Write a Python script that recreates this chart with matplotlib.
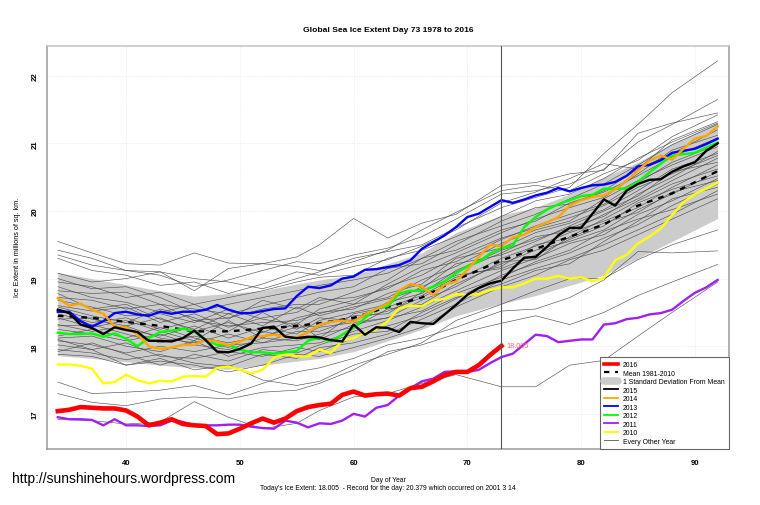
import matplotlib
matplotlib.use("Agg")
import matplotlib.pyplot as plt
from matplotlib.lines import Line2D

plt.rcParams["font.family"] = ["Liberation Sans", "DejaVu Sans"]

days = list(range(34, 93))
days_2016 = list(range(34, 74))

ice_2016 = [17.04, 17.06, 17.10, 17.09, 17.08, 17.08, 17.05, 16.96, 16.83, 16.87,
            16.92, 16.85, 16.83, 16.82, 16.70, 16.71, 16.78, 16.86, 16.93, 16.87,
            16.93, 17.04, 17.10, 17.13, 17.15, 17.28, 17.33, 17.27, 17.29, 17.30,
            17.27, 17.38, 17.40, 17.48, 17.57, 17.62, 17.62, 17.72, 17.87, 18.005]
ice_2015 = [18.54, 18.49, 18.32, 18.27, 18.18, 18.28, 18.24, 18.21, 18.08, 18.08,
            18.07, 18.12, 18.23, 18.09, 17.92, 17.91, 17.96, 18.04, 18.27, 18.29,
            18.14, 18.12, 18.14, 18.13, 18.09, 18.07, 18.32, 18.17, 18.28, 18.27,
            18.21, 18.36, 18.34, 18.33, 18.47, 18.61, 18.76, 18.86, 18.93, 18.97,
            19.15, 19.31, 19.32, 19.47, 19.64, 19.75, 19.75, 19.96, 20.17, 20.08,
            20.30, 20.40, 20.46, 20.47, 20.58, 20.66, 20.72, 20.89, 21.00]
ice_2014 = [18.71, 18.60, 18.63, 18.54, 18.48, 18.29, 18.28, 18.18, 18.00, 17.96,
            17.98, 18.02, 18.02, 18.09, 18.07, 18.01, 18.07, 18.13, 18.15, 18.17,
            18.14, 18.13, 18.21, 18.32, 18.36, 18.38, 18.36, 18.47, 18.55, 18.63,
            18.82, 18.92, 18.88, 18.76, 18.91, 18.96, 19.13, 19.32, 19.50, 19.48,
            19.61, 19.65, 19.76, 19.83, 19.91, 20.08, 20.16, 20.21, 20.23, 20.32,
            20.45, 20.60, 20.74, 20.82, 20.76, 20.92, 21.07, 21.11, 21.25]
ice_2013 = [18.51, 18.51, 18.37, 18.29, 18.37, 18.49, 18.51, 18.47, 18.45, 18.51,
            18.48, 18.51, 18.51, 18.54, 18.61, 18.54, 18.49, 18.49, 18.52, 18.55,
            18.56, 18.74, 18.88, 18.86, 18.90, 19.00, 19.03, 19.13, 19.14, 19.17,
            19.20, 19.27, 19.44, 19.54, 19.64, 19.76, 19.91, 19.96, 20.06, 20.16,
            20.12, 20.17, 20.23, 20.27, 20.34, 20.29, 20.34, 20.38, 20.39, 20.43,
            20.52, 20.66, 20.68, 20.75, 20.86, 20.89, 20.92, 20.99, 21.07]
ice_2012 = [18.20, 18.18, 18.18, 18.19, 18.14, 18.19, 18.11, 18.00, 18.12, 18.21,
            18.23, 18.26, 18.22, 18.09, 18.02, 18.02, 17.95, 17.91, 17.91, 17.89,
            17.91, 17.93, 18.08, 18.13, 18.07, 18.17, 18.27, 18.42, 18.56, 18.59,
            18.78, 18.82, 18.82, 18.88, 18.96, 19.08, 19.18, 19.25, 19.37, 19.45,
            19.49, 19.76, 19.91, 20.02, 20.10, 20.16, 20.22, 20.24, 20.33, 20.33,
            20.33, 20.43, 20.57, 20.70, 20.82, 20.84, 20.86, 20.94, 21.01]
ice_2011 = [16.95, 16.92, 16.92, 16.91, 16.83, 16.92, 16.83, 16.83, 16.82, 16.83,
            16.90, 16.88, 16.83, 16.83, 16.83, 16.84, 16.84, 16.81, 16.79, 16.78,
            16.90, 16.87, 16.80, 16.86, 16.85, 16.90, 17.00, 16.96, 17.09, 17.13,
            17.27, 17.38, 17.48, 17.52, 17.62, 17.63, 17.62, 17.65, 17.75, 17.84,
            17.89, 18.03, 18.17, 18.15, 18.06, 18.08, 18.10, 18.10, 18.32, 18.34,
            18.40, 18.42, 18.47, 18.49, 18.54, 18.67, 18.79, 18.87, 18.98]
ice_2010 = [17.73, 17.73, 17.71, 17.67, 17.45, 17.47, 17.58, 17.50, 17.45, 17.49,
            17.48, 17.55, 17.56, 17.55, 17.68, 17.70, 17.65, 17.60, 17.65, 17.83,
            17.88, 17.85, 17.85, 17.95, 17.90, 18.08, 18.12, 18.20, 18.25, 18.37,
            18.56, 18.60, 18.59, 18.68, 18.70, 18.77, 18.76, 18.77, 18.83, 18.87,
            18.87, 18.93, 19.00, 19.00, 19.04, 19.00, 19.02, 18.96, 19.01, 19.27,
            19.35, 19.52, 19.62, 19.74, 19.94, 20.13, 20.25, 20.33, 20.42]

coarse_days = [34, 37, 40, 43, 46, 49, 52, 55, 57, 60, 63, 66, 69, 73, 76, 79, 82, 85, 88, 92]

mean_ice = [18.45, 18.42, 18.36, 18.30, 18.22, 18.22, 18.26, 18.30, 18.34, 18.42, 18.58,
            18.72, 18.98, 19.27, 19.44, 19.62, 19.80, 20.08, 20.26, 20.59]
sd_upper = [19.09, 19.00, 18.91, 18.82, 18.74, 18.78, 18.82, 18.92, 18.98, 19.05, 19.22,
            19.38, 19.68, 19.94, 20.05, 20.25, 20.50, 20.72, 21.00, 21.31]
sd_lower = [17.86, 17.82, 17.77, 17.72, 17.68, 17.66, 17.72, 17.78, 17.82, 17.92, 18.08,
            18.25, 18.45, 18.63, 18.75, 18.90, 19.05, 19.30, 19.55, 19.89]

other_years = [
    [19.55, 19.38, 19.22, 19.20, 19.38, 19.23, 19.22, 19.32, 19.50, 19.89, 19.60, 19.82, 19.95, 20.38, 20.42, 20.55, 20.60, 21.15, 21.30, 21.45],
    [19.35, 19.20, 19.12, 19.10, 19.00, 18.95, 18.85, 19.00, 19.10, 19.30, 19.40, 19.50, 19.75, 20.05, 20.20, 20.35, 20.85, 21.28, 21.75, 22.22],
    [19.42, 19.30, 19.12, 19.05, 18.88, 18.98, 19.12, 19.25, 19.22, 19.35, 19.45, 19.62, 19.88, 20.25, 20.30, 20.40, 20.62, 21.02, 21.28, 21.65],
    [19.08, 18.95, 19.00, 19.10, 18.82, 19.15, 19.22, 19.18, 19.12, 19.25, 19.42, 19.72, 19.98, 20.30, 20.38, 20.30, 20.55, 20.75, 21.10, 21.42],
    [18.95, 18.88, 18.72, 18.80, 18.62, 18.72, 18.82, 18.95, 19.02, 19.05, 19.30, 19.42, 19.62, 19.92, 20.15, 20.25, 20.48, 20.78, 21.02, 21.30],
    [18.82, 18.78, 18.80, 18.62, 18.55, 18.48, 18.60, 18.72, 18.80, 18.88, 19.15, 19.22, 19.50, 19.85, 20.05, 20.10, 20.30, 20.62, 20.85, 21.20],
    [18.72, 18.68, 18.55, 18.62, 18.38, 18.42, 18.55, 18.62, 18.62, 18.80, 18.98, 19.30, 19.42, 19.72, 19.85, 20.12, 20.28, 20.52, 20.80, 21.08],
    [18.60, 18.52, 18.58, 18.35, 18.48, 18.28, 18.42, 18.50, 18.68, 18.72, 18.85, 19.12, 19.25, 19.58, 19.78, 19.95, 20.10, 20.42, 20.72, 20.98],
    [18.55, 18.40, 18.30, 18.42, 18.22, 18.35, 18.20, 18.42, 18.50, 18.55, 18.78, 18.92, 19.30, 19.45, 19.68, 19.82, 20.02, 20.30, 20.62, 20.85],
    [18.40, 18.42, 18.25, 18.15, 18.30, 18.12, 18.28, 18.18, 18.38, 18.50, 18.62, 18.88, 19.10, 19.38, 19.62, 19.70, 19.95, 20.18, 20.45, 20.78],
    [18.32, 18.22, 18.30, 18.12, 18.05, 18.18, 18.05, 18.22, 18.22, 18.40, 18.52, 18.72, 18.98, 19.30, 19.48, 19.68, 19.85, 20.05, 20.35, 20.68],
    [18.25, 18.18, 18.08, 18.18, 18.02, 17.95, 18.12, 18.08, 18.18, 18.28, 18.55, 18.62, 18.92, 19.22, 19.42, 19.55, 19.72, 20.02, 20.25, 20.58],
    [18.12, 18.15, 18.00, 17.92, 18.08, 17.85, 17.98, 18.02, 18.05, 18.22, 18.38, 18.58, 18.82, 19.12, 19.30, 19.52, 19.65, 19.95, 20.15, 20.48],
    [18.02, 17.95, 18.05, 17.85, 17.82, 17.92, 17.85, 17.98, 17.92, 18.12, 18.30, 18.45, 18.70, 19.05, 19.22, 19.38, 19.60, 19.80, 20.08, 20.40],
    [17.95, 17.90, 17.80, 17.88, 17.75, 17.70, 17.88, 17.82, 17.98, 18.05, 18.18, 18.40, 18.62, 18.98, 19.15, 19.30, 19.50, 19.72, 19.95, 20.30],
    [17.88, 17.85, 17.72, 17.78, 17.72, 17.62, 17.72, 17.88, 17.85, 17.98, 18.12, 18.28, 18.58, 18.88, 19.05, 19.28, 19.42, 19.65, 19.88, 20.18],
    [18.48, 18.35, 18.42, 18.25, 18.38, 18.30, 18.35, 18.38, 18.48, 18.62, 18.72, 18.98, 19.18, 19.52, 19.72, 19.85, 20.18, 20.45, 20.68, 20.95],
    [18.68, 18.58, 18.45, 18.48, 18.35, 18.55, 18.40, 18.32, 18.55, 18.68, 18.88, 19.05, 19.32, 19.60, 19.75, 19.90, 20.08, 20.35, 20.55, 20.82],
    [18.30, 18.32, 18.18, 18.05, 18.15, 18.05, 18.15, 18.28, 18.30, 18.45, 18.48, 18.80, 19.05, 19.15, 19.35, 19.58, 19.78, 20.12, 20.32, 20.52],
    [18.08, 18.02, 17.90, 18.00, 17.92, 18.02, 18.05, 18.12, 18.10, 18.32, 18.42, 18.52, 18.78, 19.02, 19.25, 19.42, 19.70, 19.88, 20.02, 20.25],
    [18.88, 18.72, 18.65, 18.50, 18.62, 18.40, 18.68, 18.55, 18.72, 18.62, 18.92, 19.18, 19.38, 19.68, 19.88, 20.05, 20.20, 20.55, 20.90, 21.12],
    [19.00, 18.85, 18.88, 18.72, 18.50, 18.62, 18.72, 18.82, 18.90, 18.98, 19.08, 19.30, 19.55, 19.78, 19.95, 20.18, 20.40, 20.68, 20.98, 21.28],
    [17.47, 17.30, 17.32, 17.35, 17.42, 17.28, 17.45, 17.62, 17.68, 17.82, 18.02, 18.12, 18.28, 18.52, 18.55, 18.72, 18.98, 19.40, 19.38, 19.41],
    [17.30, 17.17, 17.12, 17.22, 17.25, 17.22, 17.32, 17.35, 17.45, 17.65, 17.92, 18.02, 18.18, 18.34, 18.45, 18.32, 18.50, 18.75, 18.95, 19.21],
    [16.92, 16.90, 16.85, 16.88, 17.18, 16.95, 16.78, 16.86, 17.05, 17.25, 17.30, 17.45, 17.58, 17.40, 17.40, 17.72, 17.79, 18.15, 18.50, 18.95],
    [18.10, 17.95, 17.72, 17.82, 17.65, 17.72, 17.50, 17.42, 17.48, 17.72, 17.88, 18.05, 18.38, 18.62, 18.82, 19.00, 19.00, 19.28, 19.50, 19.72],
    [19.30, 19.12, 19.05, 18.90, 18.95, 18.78, 18.92, 19.10, 19.05, 19.18, 19.28, 19.48, 19.72, 20.12, 20.28, 20.48, 20.70, 20.62, 21.05, 21.32],
    [18.78, 18.55, 18.62, 18.40, 18.25, 18.48, 18.30, 18.58, 18.45, 18.58, 18.70, 18.85, 19.22, 19.35, 19.55, 19.78, 20.00, 20.22, 20.58, 20.72],
    [18.15, 18.25, 18.12, 18.28, 18.12, 17.98, 18.22, 18.12, 18.28, 18.35, 18.42, 18.68, 18.88, 19.25, 19.28, 19.62, 19.88, 20.15, 20.40, 20.62],
    [17.92, 18.05, 17.88, 17.72, 17.88, 17.78, 17.95, 17.90, 18.02, 18.18, 18.22, 18.50, 18.72, 18.92, 19.12, 19.22, 19.55, 19.85, 20.18, 20.35],
    [18.58, 18.45, 18.35, 18.55, 18.42, 18.22, 18.50, 18.25, 18.42, 18.38, 18.65, 18.78, 19.12, 19.42, 19.58, 19.75, 19.92, 20.25, 20.50, 20.88],
    [18.42, 18.28, 18.38, 18.22, 18.08, 18.38, 18.12, 18.35, 18.12, 18.48, 18.58, 18.75, 19.02, 19.18, 19.50, 19.60, 19.82, 19.98, 20.28, 20.45],
]

xticks = [40, 50, 60, 70, 80, 90]
yticks = [17, 18, 19, 20, 21, 22]
today = 73

fig = plt.figure(figsize=(7.6, 5.06), dpi=100)
ax = fig.add_axes([47 / 760, 1 - 450 / 506, (729 - 47) / 760, (450 - 47) / 506])

ax.fill_between(coarse_days, sd_lower, sd_upper, color="#cccccc", lw=0, zorder=1)
for line in other_years:
    ax.plot(coarse_days, line, color="#4a4a4a", lw=0.42, zorder=2)

ax.plot(coarse_days, mean_ice, color="black", lw=1.7, ls=(0, (2.4, 2.6)), zorder=4)
ax.plot(days, ice_2010, color="#ffff00", lw=1.7, zorder=5)
ax.plot(days, ice_2011, color="#a020f0", lw=1.7, zorder=5)
ax.plot(days, ice_2012, color="#00ff00", lw=1.7, zorder=5)
ax.plot(days, ice_2013, color="#0000ff", lw=1.7, zorder=5)
ax.plot(days, ice_2014, color="#ffa500", lw=1.7, zorder=6)
ax.plot(days, ice_2015, color="black", lw=1.7, zorder=6)
ax.plot(days_2016, ice_2016, color="#ff0000", lw=3.3, zorder=7)

ax.axvline(today, color="#555555", lw=0.8, zorder=8)
ax.text(today + 0.4, ice_2016[-1], "18.005", color="#ff6666", fontsize=5.2, va="center", zorder=9)

ax.set_xlim(33.05, 93.0)
ax.set_ylim(16.48, 22.44)
ax.set_xticks(xticks)
ax.set_yticks(yticks)
ax.grid(color="#e4e4e4", lw=0.6, ls=":")
ax.set_axisbelow(True)
ax.tick_params(axis="x", length=0, labelsize=5.6, pad=10)
ax.tick_params(axis="y", length=0, labelsize=5.6, labelrotation=90, pad=6)
for label in ax.get_xticklabels() + ax.get_yticklabels():
    label.set_fontweight("bold")
    label.set_verticalalignment("center")
for spine in ax.spines.values():
    spine.set_color("#9a9a9a")
    spine.set_linewidth(1.1)
ax.spines["top"].set_color("#c4c4c4")

handles = [
    Line2D([], [], color="#ff0000", lw=2.6),
    Line2D([], [], color="black", lw=1.6, ls=(0, (2.4, 2.6))),
    Line2D([], [], color="#cccccc", lw=5.5, solid_capstyle="round"),
    Line2D([], [], color="black", lw=1.3),
    Line2D([], [], color="#ffa500", lw=1.3),
    Line2D([], [], color="#0000ff", lw=1.3),
    Line2D([], [], color="#00ff00", lw=1.3),
    Line2D([], [], color="#a020f0", lw=1.3),
    Line2D([], [], color="#ffff00", lw=1.3),
    Line2D([], [], color="#555555", lw=0.6),
]
labels = ["2016", "Mean 1981-2010", "1 Standard Deviation From Mean", "2015", "2014", "2013",
          "2012", "2011", "2010", "Every Other Year"]
leg = ax.legend(handles, labels, loc="lower right", fontsize=4.96, frameon=True, fancybox=False,
                framealpha=1, edgecolor="#666666", borderaxespad=0, borderpad=0.6,
                labelspacing=0.22, handlelength=2.0, handletextpad=0.75)
leg.get_frame().set_linewidth(0.8)
leg.set_zorder(10)

fig.text(388 / 760, 1 - 30.5 / 506, "Global Sea Ice Extent Day 73 1978 to 2016", ha="center", va="center",
         fontsize=6.1, fontweight="bold")
fig.text(18 / 760, 1 - 247 / 506, "Ice Extent in millions of sq. km.", rotation=90, ha="center", va="center",
         fontsize=5.2)
fig.text(388 / 760, 1 - 480.5 / 506, "Day of Year", ha="center", va="center", fontsize=4.9)
fig.text(388 / 760, 1 - 488.5 / 506, "Today's Ice Extent: 18.005  - Record for the day: 20.379 which occurred on 2001 3 14",
         ha="center", va="center", fontsize=4.9)
fig.text(12 / 760, 1 - 479 / 506, "http://sunshinehours.wordpress.com", ha="left", va="center", fontsize=10)

fig.savefig("out.png", dpi=100)
